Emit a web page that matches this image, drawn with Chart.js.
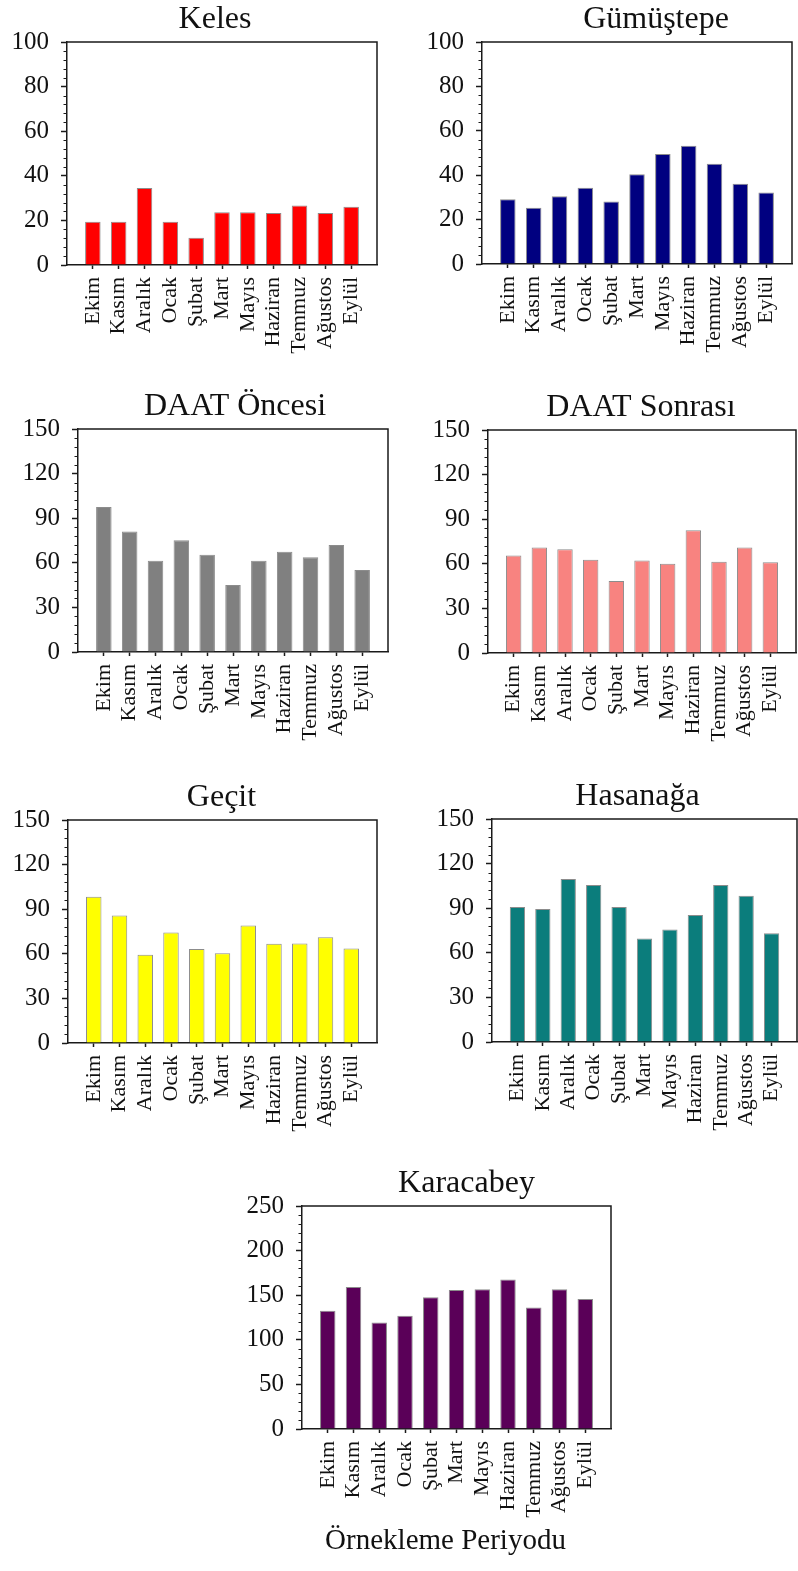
<!DOCTYPE html>
<html>
<head>
<meta charset="utf-8">
<script src="https://cdn.jsdelivr.net/npm/chart.js@4.4.1/dist/chart.umd.min.js"></script>
<style>
  html, body { margin: 0; padding: 0; background: #fff; }
  #page { position: relative; width: 798px; height: 1571px; overflow: hidden; background: #fff; }
  #page canvas { position: absolute; }
</style>
</head>
<body>
<div id="page"></div>
<script>
// Sampling months (October → September)
const months = ['Ekim', 'Kasım', 'Aralık', 'Ocak', 'Şubat', 'Mart', 'Mayıs', 'Haziran', 'Temmuz', 'Ağustos', 'Eylül'];

// Monthly values per station
const keles       = [19.4, 19.4, 34.5, 19.4, 12.2, 23.7, 23.7, 23.3, 26.7, 23.3, 26.1];
const gumustepe   = [29.2, 25.3, 30.5, 34.4, 28.1, 40.4, 49.6, 53.3, 45.2, 36.2, 32.2];
const daatOncesi  = [97.6, 81.0, 61.3, 75.2, 65.4, 45.0, 61.3, 67.4, 63.8, 71.9, 55.1];
const daatSonrasi = [65.6, 71.0, 69.8, 62.7, 48.4, 62.2, 60.0, 82.6, 61.3, 71.0, 61.1];
const gecit       = [98.4, 85.8, 59.3, 74.3, 63.3, 60.4, 79.0, 66.7, 66.9, 71.2, 63.6];
const hasanaga    = [90.8, 89.5, 109.6, 105.6, 90.8, 69.7, 75.6, 85.4, 105.6, 98.4, 73.1];
const karacabey   = [132.5, 159.1, 119.4, 126.9, 147.8, 155.7, 156.8, 167.7, 136.2, 156.8, 145.6];

// Station titles
const stationNames = ['Keles', 'Gümüştepe', 'DAAT Öncesi', 'DAAT Sonrası', 'Geçit', 'Hasanağa', 'Karacabey'];

// Value-axis ticks: [max, major step, minor step]
const axis100 = [100, 20, 4];
const axis150 = [150, 30, 6];
const axis250 = [250, 50, 10];

const xAxisTitle = 'Örnekleme Periyodu';

// ---- panel layout (plot-area rectangles in page pixels) and styling ----
const FONT = 'Liberation Serif';
const INK = '#1a1a1a';
const Y_W = 60;       // width reserved for the value axis
const PAD_L = 4, PAD_T = 48, PAD_R = 4;

const panels = [
  { name: stationNames[0], values: keles,       axis: axis100, color: '#FF0000', rect: [67, 42, 377, 265],    titleDx: -7 },
  { name: stationNames[1], values: gumustepe,   axis: axis100, color: '#000080', rect: [482, 42, 792, 264],   titleDx: 19 },
  { name: stationNames[2], values: daatOncesi,  axis: axis150, color: '#808080', rect: [78, 429, 388, 652],   titleDx: 2 },
  { name: stationNames[3], values: daatSonrasi, axis: axis150, color: '#F88380', rect: [488, 430, 796, 653],  titleDx: -1 },
  { name: stationNames[4], values: gecit,       axis: axis150, color: '#FFFF00', rect: [68, 820, 377, 1043],  titleDx: -1 },
  { name: stationNames[5], values: hasanaga,    axis: axis150, color: '#0B7D7C', rect: [492, 819, 797, 1042], titleDx: -7 },
  { name: stationNames[6], values: karacabey,   axis: axis250, color: '#5A0058', rect: [302, 1206, 611, 1429], titleDx: 10, xh: 142, caption: xAxisTitle, captionDx: -11, captionDy: 120 }
];

// Frame (top/right edges), minor value ticks, panel title and optional caption
const panelDecor = {
  id: 'panelDecor',
  afterDraw(chart, args, opts) {
    const { ctx, chartArea: a } = chart;
    const y = chart.scales.y;
    ctx.save();
    ctx.strokeStyle = INK;
    ctx.lineWidth = 1.5;
    ctx.beginPath();
    ctx.moveTo(a.left, a.top);
    ctx.lineTo(a.right, a.top);
    ctx.lineTo(a.right, a.bottom);
    ctx.stroke();

    ctx.lineWidth = 1;
    ctx.beginPath();
    for (let v = y.min; v <= y.max + 1e-9; v += opts.minor) {
      const r = v / opts.major;
      if (Math.abs(r - Math.round(r)) < 1e-6) continue;
      const py = Math.round(y.getPixelForValue(v)) + 0.5;
      ctx.moveTo(a.left - 3.5, py);
      ctx.lineTo(a.left, py);
    }
    ctx.stroke();

    ctx.fillStyle = '#111';
    ctx.textAlign = 'center';
    ctx.textBaseline = 'alphabetic';
    ctx.font = '32px "' + FONT + '"';
    ctx.fillText(opts.title, (a.left + a.right) / 2 + opts.titleDx, a.top - 14);

    if (opts.caption) {
      ctx.font = '29px "' + FONT + '"';
      ctx.fillText(opts.caption, (a.left + a.right) / 2 + opts.captionDx, a.bottom + opts.captionDy);
    }
    ctx.restore();
  }
};

const page = document.getElementById('page');

panels.forEach(p => {
  const [L, T, R, B] = p.rect;
  const xh = p.xh || 100;
  const left = L - Y_W - PAD_L;
  const top = T - PAD_T;
  const width = (R + PAD_R) - left;
  const height = B + xh + 4 - top;

  const canvas = document.createElement('canvas');
  canvas.width = width;
  canvas.height = height;
  canvas.style.left = left + 'px';
  canvas.style.top = top + 'px';
  canvas.style.width = width + 'px';
  canvas.style.height = height + 'px';
  page.appendChild(canvas);

  const [yMax, major, minor] = p.axis;
  const labels = ['', ...months, ''];
  const last = labels.length - 1;

  new Chart(canvas, {
    type: 'bar',
    data: {
      labels,
      datasets: [{
        data: [null, ...p.values, null],
        backgroundColor: p.color,
        borderColor: 'rgba(45,45,45,0.55)',
        borderWidth: 1,
        categoryPercentage: 1,
        barPercentage: 0.6
      }]
    },
    options: {
      responsive: false,
      animation: false,
      devicePixelRatio: 1,
      layout: { padding: { left: PAD_L, top: PAD_T, right: PAD_R, bottom: 4 } },
      plugins: {
        legend: { display: false },
        tooltip: { enabled: false },
        panelDecor: {
          title: p.name, titleDx: p.titleDx, major, minor,
          caption: p.caption, captionDx: p.captionDx, captionDy: p.captionDy
        }
      },
      scales: {
        x: {
          type: 'category',
          offset: false,
          grid: {
            offset: false,
            drawOnChartArea: false,
            tickLength: 4,
            tickWidth: 1.5,
            tickColor: c => (c.index === 0 || c.index === last) ? 'rgba(0,0,0,0)' : INK
          },
          border: { color: INK, width: 1.5 },
          ticks: {
            autoSkip: false,
            minRotation: 90,
            maxRotation: 90,
            padding: 8,
            color: '#111',
            font: { family: FONT, size: 22 }
          },
          afterFit(s) { s.height = xh; s.paddingLeft = 0; s.paddingRight = 0; }
        },
        y: {
          min: 0,
          max: yMax,
          ticks: {
            stepSize: major,
            padding: 12,
            color: '#111',
            font: { family: FONT, size: 25 }
          },
          grid: { drawOnChartArea: false, tickLength: 6, tickWidth: 1.5, tickColor: INK },
          border: { color: INK, width: 1.5 },
          afterFit(s) { s.width = Y_W; s.paddingTop = 0; s.paddingBottom = 0; }
        }
      }
    },
    plugins: [panelDecor]
  });
});
</script>
</body>
</html>
